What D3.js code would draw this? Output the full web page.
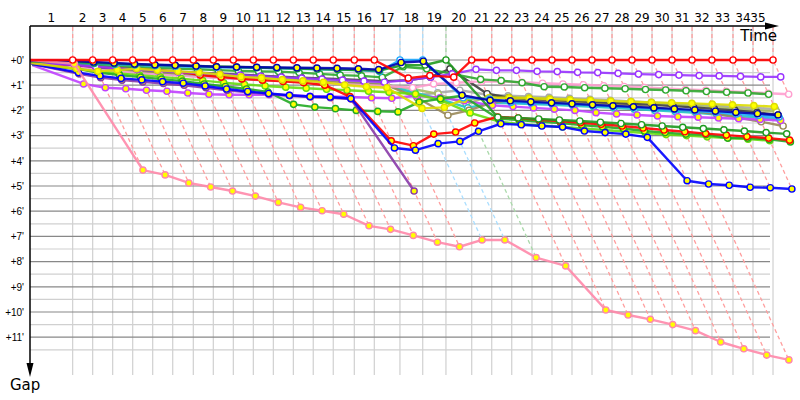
<!DOCTYPE html>
<html>
<head>
<meta charset="utf-8">
<script src="https://cdn.jsdelivr.net/npm/d3@7"></script>
<style>
body { margin: 0; background: #fff; }
svg { display: block; font-family: "DejaVu Sans", sans-serif; }
</style>
</head>
<body>
<script>
// chart size
var width = 800,
    height = 400;

// laps and the leader's race time (minutes) at the end of each lap
var lapNumbers = [1,2,3,4,5,6,7,8,9,10,11,12,13,14,15,16,17,18,19,20,21,22,23,24,25,26,27,28,29,30,31,32,33,34,35];
var leaderTimes = [3.71,5.45,7.19,8.93,10.67,12.41,14.20,15.94,17.68,19.42,21.16,22.90,24.63,26.37,28.20,29.94,32.17,34.15,36.17,38.41,40.15,41.89,43.65,45.39,47.13,48.87,50.61,52.35,54.09,55.83,57.57,59.30,61.13,62.87,64.61];

// gap axis (minutes)
var gapTicks = [0,1,2,3,4,5,6,7,8,9,10,11];
var halfTicks = [0.5,1.5,2.5,3.5,4.5,5.5,6.5,7.5,8.5,9.5,10.5,11.5];

// gap to leader (minutes): start, then lap 1..35
var gapRed      = [0, 0,0,0,0,0,0,0,0,0,0,0,0,0,0,0,0, 0.72,0.62,0.68, 0,0,0,0,0,0,0,0,0,0,0,0,0,0,0,0];
var gapNavy     = [0.02, 0.04,0.08,0.12,0.16,0.19,0.21,0.24,0.27,0.28,0.29,0.3,0.31,0.32,0.33,0.35,0.38, 0.1,0.05,1.4, 1.6,1.62,1.66,1.7,1.74,1.78,1.82,1.86,1.9,1.94,1.98,2.03,2.08,2.13,2.18, null];
var gapSky      = [0.03, 0.1,0.14,0.18,0.2,0.23,0.25,0.27,0.29,0.3,0.31,0.33,0.35,0.37,0.39,0.4,0.46, 0,0,1.5, 1.55,1.68,1.7,1.72,1.75,1.8,1.84,1.88,1.93,1.98,2.03,2.08,2.14,2.2,2.26, null];
var gapGreen1   = [0.05, 0.08,0.12,0.15,0.18,0.2,0.22,0.24,0.26,0.28,0.3,0.32,0.34,0.36,0.38,0.4,0.42, 0.21,0.2,0, 2.27,2.3,2.34,2.38,2.42,2.47,2.52,2.57,2.62,2.67,2.72,2.77,2.82,2.88,2.93, null];
var gapGreen3   = [0.08, 0.15,0.2,0.25,0.28,0.31,0.34,0.37,0.4,0.43,0.45,0.46,0.5,0.55,0.6,0.63,0.69, 0.27,0.35,0.55, 0.77,0.82,0.9,1.06,1.07,1.1,1.12,1.14,1.17,1.19,1.22,1.25,1.28,1.31,1.36, null];
var gapViolet   = [0.1, 0.2,0.27,0.33,0.38,0.43,0.48,0.52,0.56,0.6,0.64,0.68,0.72,0.76,0.8,0.84,0.88, 0.8,0.68,0.55, 0.37,0.41,0.41,0.45,0.46,0.49,0.5,0.53,0.56,0.58,0.6,0.62,0.63,0.65,0.67,0.67];
var gapYellow   = [0.12, 0.35,0.45,0.4,0.35,0.41,0.45,0.5,0.57,0.67,0.71,0.78,0.83,0.88,0.99,1.06,1.1, 1.92,1.88,1.56, 1.5,1.5,1.52,1.55,1.58,1.6,1.63,1.65,1.68,1.7,1.72,1.75,1.78,1.81,1.85, null];
var gapPurple   = [0.15, 0.55,0.7,0.8,0.87,0.93,1.0,1.1,1.2,1.28,1.35,1.42,1.47,1.5,1.55,5.2, null,null,null,null,null,null,null,null,null,null,null,null,null,null,null,null,null,null,null,null];
var gapBlue     = [0.15, 0.5,0.63,0.73,0.79,0.86,0.92,1.03,1.15,1.25,1.33,1.4,1.45,1.47,1.53,3.49,3.58,3.32,3.23,2.83,2.53,2.57,2.62,2.66,2.82,2.88,2.94,3.07,4.79,4.92,4.97,5.05,5.07,5.12, null,null];
var gapRed2     = [0.12, 0.2,0.25,0.3,0.35,0.4,0.45,0.6,0.68,0.75,0.8,0.85,0.9,1.0,1.45, 3.21,3.4,2.94,2.86,2.5, 2.26,2.3,2.37,2.42,2.49,2.55,2.62,2.7,2.78,2.85,2.92,2.98,3.04,3.1,3.18, null];
var gapGreen2   = [0.18, 0.35,0.5,0.6,0.68,0.76,0.84,0.95,1.05,1.15,1.27,1.76,1.87,1.93,2.0,2.04,2.06, 1.67,1.54,1.42, 2.33,2.38,2.45,2.5,2.58,2.65,2.72,2.82,2.88,2.94,2.96,3.1,3.1,3.15,3.25, null];
var gapLavender = [0.2, 0.95,1.1,1.14,1.2,1.24,1.31,1.36,1.38,1.38,1.38,1.4,1.44,1.45,1.47,1.5,1.52, 1.42,1.5,1.62, 1.8,1.85,1.9,1.95,2.0,2.09,2.14,2.18,2.22,2.25,2.27,2.3,2.33,2.36,2.4, null];
var gapLightPink= [0.1, 0.3,0.38,0.45,0.52,0.58,0.63,0.68,0.72,0.76,0.8,0.84,0.88,0.92,0.96,1.0,1.03, 1.1,0.95,0.9, 0.85,0.86,0.88,0.92,0.95,0.98,1.02,1.05,1.09,1.13,1.17,1.2,1.24,1.28,1.32,1.36];
var gapPink     = [0, 0.15,4.37,4.56,4.88,5.04,5.2,5.4,5.65,5.85,5.98,6.12,6.58,6.72,6.96,7.23,7.41,7.14,7.14,7.84,8.17,9.92,10.12,10.29,10.5,10.74,11.19,11.46,11.71,11.9, null,null,null,null,null,null];
var gapOlive    = [0.1, 0.25,0.32,0.38,0.44,0.5,0.55,0.6,0.65,0.7,0.74,0.78,0.82,0.86,0.9,0.94,0.98, 1.5,2.19,2.0, 1.7,1.6,1.62,1.65,1.68,1.72,1.76,1.8,1.88,1.95,2.05,2.15,2.28,2.45,2.62, null];
var gapBlack    = [0.08, 0.22,0.28,0.33,0.38,0.42,0.46,0.5,0.54,0.58,0.62,0.66,0.7,0.73,0.76,0.8,0.84, 0.8,0.68,0.35, 1.34,1.5,1.55,1.58,1.62,1.66,1.7,1.74,1.78,1.83,1.88,1.94,2.0,2.08,2.18, null];
var gapCyan     = [0.12, 0.28,0.36,0.43,0.5,0.56,0.61,0.66,0.71,0.76,0.8,0.84,0.87,0.9,0.93,0.97,1.0, 1.3,1.55,1.9, 1.7,1.72,1.75,1.78,1.82,1.86,1.9,1.95,2.0,2.05,2.1,2.16,2.22,2.28,2.35, null];
var gapLime     = [0.15, 0.35,0.45,0.53,0.6,0.67,0.74,0.82,0.9,0.97,1.03,1.08,1.12,1.16,1.2,1.24,1.28, 1.35,1.6,2.1, 2.45,2.55,2.6,2.66,2.72,2.78,2.84,2.9,2.96,3.0,3.05,3.1,3.14,3.2, null,null];
var gapKhaki    = [0.1, 0.26,0.34,0.4,0.46,0.52,0.57,0.62,0.67,0.72,0.76,0.8,0.84,0.88,0.92,0.96,1.0, 1.15,1.35,1.75, 1.45,1.48,1.5,1.53,1.56,1.6,1.64,1.68,1.72,1.77,1.82,1.87,1.92,1.98,2.05, null];
var gapGray     = [0.1, 0.24,0.3,0.36,0.41,0.46,0.5,0.55,0.6,0.64,0.68,0.72,0.76,0.8,0.84,0.88,0.92, 1.4,1.3,1.2, 1.38,1.42,1.45,1.48,1.52,1.56,1.6,1.64,1.68,1.72,1.76,1.8,1.85,1.9,1.95, null];

// draw order: back to front
var cars = [
  {color: "#a8a8a8", fill: "#fff",    gaps: gapGray},
  {color: "#aabb66", fill: "#fff",    gaps: gapKhaki},
  {color: "#22c4c4", fill: "#fff",    gaps: gapCyan},
  {color: "#9a8a5a", fill: "#fff",    gaps: gapOlive},
  {color: "#404040", fill: "#fff",    gaps: gapBlack},
  {color: "#ff9fcf", fill: "#fff",    gaps: gapLightPink},
  {color: "#c040ff", fill: "#ffff00", gaps: gapLavender},
  {color: "#66dd11", fill: "#ffff00", gaps: gapLime},
  {color: "#22aa22", fill: "#ffff00", gaps: gapGreen2},
  {color: "#8a3aa8", fill: "#ffff00", gaps: gapPurple},
  {color: "#ff0000", fill: "#ffff00", gaps: gapRed2},
  {color: "#0000ff", fill: "#ffff00", gaps: gapBlue},
  {color: "#2fa82f", fill: "#fff",    gaps: gapGreen3},
  {color: "#9933ff", fill: "#fff",    gaps: gapViolet},
  {color: "#dddd00", fill: "#ffff00", gaps: gapYellow},
  {color: "#1ea8ff", fill: "#fff",    gaps: gapSky},
  {color: "#1f9a1f", fill: "#fff",    gaps: gapGreen1},
  {color: "#0000b0", fill: "#ffff00", gaps: gapNavy},
  {color: "#ff88aa", fill: "#ffff00", gaps: gapPink},
  {color: "#ff0000", fill: "#fff",    gaps: gapRed}
];

var x = d3.scaleLinear().domain([0, 66]).range([30, 789]);
var y = d3.scaleLinear().domain([0, 12]).range([60, 362.4]);

var svg = d3.select("body").append("svg")
    .attr("width", width)
    .attr("height", height);

// time of a car's crossing = leader time + gap
function px(i, g) { return x((i == 0 ? 0 : leaderTimes[i - 1]) + g); }

// vertical lap lines
svg.append("g").selectAll("line")
    .data(leaderTimes)
    .enter().append("line")
    .attr("x1", function(d) { return x(d); })
    .attr("x2", function(d) { return x(d); })
    .attr("y1", 26).attr("y2", 375)
    .attr("stroke", "#d0d0d0").attr("stroke-width", 1.2);

// half minute lines
svg.append("g").selectAll("line")
    .data(halfTicks)
    .enter().append("line")
    .attr("x1", 30).attr("x2", 770)
    .attr("y1", function(d) { return y(d); })
    .attr("y2", function(d) { return y(d); })
    .attr("stroke", "#d0d0d0").attr("stroke-width", 1.2);

// minute lines
svg.append("g").selectAll("line")
    .data(gapTicks)
    .enter().append("line")
    .attr("x1", 30).attr("x2", 770)
    .attr("y1", function(d) { return y(d); })
    .attr("y2", function(d) { return y(d); })
    .attr("stroke", "#888").attr("stroke-width", 1.2);

// dashed lap lines: from the top down to the leader, then to the last car of that lap
var lapLines = leaderTimes.map(function(t, k) {
  var lead = null, last = null;
  cars.forEach(function(c) {
    var g = c.gaps[k + 1];
    if (g == null) return;
    if (lead == null || g < lead.g) lead = {g: g, c: c};
    if (last == null || g > last.g) last = {g: g, c: c};
  });
  return {t: t, lead: lead, last: last};
});

svg.append("g").selectAll("path")
    .data(lapLines)
    .enter().append("path")
    .attr("d", function(d) {
      return "M" + x(d.t) + ",27L" + x(d.t) + "," + y(0) +
             "L" + x(d.t + d.last.g) + "," + y(d.last.g);
    })
    .attr("fill", "none")
    .attr("stroke", function(d) { return d3.interpolateRgb(d.lead.c.color, "#fff")(0.62); })
    .attr("stroke-width", 1.3)
    .attr("stroke-dasharray", "4,3");

// cars
var line = d3.line()
    .defined(function(d) { return d.g != null; })
    .x(function(d) { return px(d.i, d.g); })
    .y(function(d) { return y(d.g); });

cars.forEach(function(c) {
  var pts = c.gaps.map(function(g, i) { return {i: i, g: g}; });
  var grp = svg.append("g");
  grp.append("path")
      .datum(pts)
      .attr("d", line)
      .attr("fill", "none")
      .attr("stroke", c.color)
      .attr("stroke-width", 2.4)
      .attr("stroke-opacity", 0.9)
      .attr("stroke-linejoin", "round");
  grp.selectAll("circle")
      .data(pts.filter(function(d) { return d.i > 0 && d.g != null; }))
      .enter().append("circle")
      .attr("cx", function(d) { return px(d.i, d.g); })
      .attr("cy", function(d) { return y(d.g); })
      .attr("r", 3.1)
      .attr("fill", c.fill)
      .attr("stroke", c.color)
      .attr("stroke-width", 1.4);
});

// axes
svg.append("line").attr("x1", 30).attr("x2", 768).attr("y1", 26).attr("y2", 26)
    .attr("stroke", "#000").attr("stroke-width", 1.5);
svg.append("path").attr("d", "M765,22.5L779,26L765,29.5Z").attr("fill", "#000");
svg.append("line").attr("x1", 30).attr("x2", 30).attr("y1", 26).attr("y2", 366)
    .attr("stroke", "#000").attr("stroke-width", 1.5);
svg.append("path").attr("d", "M26.5,363L33.5,363L30,377Z").attr("fill", "#000");

// lap labels, centred on each lap (the last one is pushed in under the arrow)
svg.append("g").selectAll("text")
    .data(lapNumbers)
    .enter().append("text")
    .attr("x", function(d, i) {
      var t0 = i == 0 ? 0 : leaderTimes[i - 1];
      return Math.min(x((t0 + leaderTimes[i]) / 2), 758);
    })
    .attr("y", 22)
    .attr("text-anchor", "middle")
    .attr("font-size", 12)
    .text(function(d) { return d; });

// gap labels
var yAxis = d3.axisLeft(y)
    .tickValues(gapTicks)
    .tickSize(0)
    .tickPadding(0)
    .tickFormat(function(d) { return "+" + d + "'"; });

svg.append("g")
    .attr("transform", "translate(24,0)")
    .call(yAxis)
    .call(function(g) { g.select(".domain").remove(); })
    .attr("font-family", "'Liberation Sans', sans-serif")
    .attr("font-size", 10)
    .selectAll("text").attr("fill", "#000");

svg.append("text").attr("x", 777).attr("y", 41).attr("text-anchor", "end")
    .attr("font-size", 15).text("Time");
svg.append("text").attr("x", 10).attr("y", 390)
    .attr("font-size", 15).text("Gap");
</script>
</body>
</html>
